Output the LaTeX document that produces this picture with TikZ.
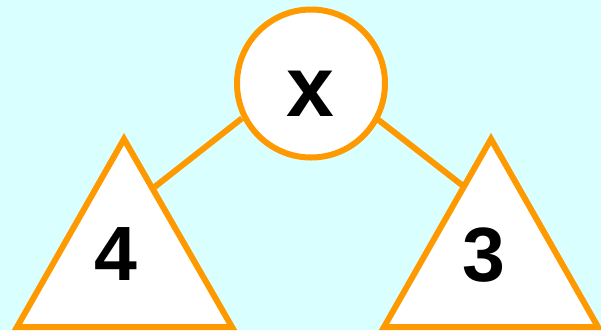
\documentclass[tikz,border=0pt]{standalone}
\usepackage{fontspec}
\setmainfont{Liberation Sans}
\begin{document}
\begin{tikzpicture}[x=1pt,y=-1pt]
\definecolor{bg}{HTML}{D9FFFF}
\definecolor{org}{HTML}{FF9900}
\tikzset{
  shapeline/.style={draw=org, line width=6pt, fill=white, line join=miter},
  edgeline/.style={draw=org, line width=6pt},
  lbl/.style={font=\bfseries\fontsize{77}{77}\selectfont, inner sep=0pt},
  rootlbl/.style={font=\bfseries\fontsize{86}{86}\selectfont, inner sep=0pt}
}
\fill[bg] (0,0) rectangle (601,330);
\useasboundingbox (0,0) rectangle (601,330);
% connectors
\coordinate (la) at (242,118.3);
\coordinate (lb) at (152,189);
\coordinate (ra) at (376,118);
\coordinate (rb) at (467,189);
\draw[edgeline] (la) -- (lb);
\draw[edgeline] (ra) -- (rb);
% root circle
\node[shapeline, circle, minimum size=148pt, inner sep=0pt] (root) at (311,83.5) {};
\node[rootlbl] (xl) at (310.5,93.5) {x};
% left triangle
\draw[shapeline] (124,139) -- (232,327) -- (17,327) -- cycle;
\node[lbl] (four) at (115.5,254.5) {4};
% right triangle
\draw[shapeline] (491,139) -- (598,327) -- (384,327) -- cycle;
\node[lbl] (three) at (484,255) {3};
\end{tikzpicture}
\end{document}
